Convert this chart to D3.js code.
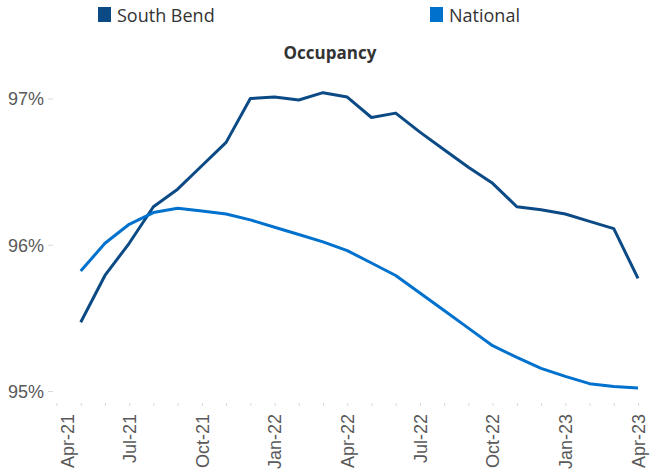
<!DOCTYPE html>
<html>
<head>
<meta charset="utf-8">
<script src="https://cdn.jsdelivr.net/npm/d3@7"></script>
<style>
  body { margin: 0; background: #fff; }
  svg { font-family: "Open Sans", sans-serif; }
  .axis path { display: none; }
  .axis line { stroke: #d9d9d9; }
  .axis text { fill: #595959; }
</style>
</head>
<body>
<svg id="chart" width="662" height="473"></svg>
<script>
// months on the axis, Apr-21 .. Apr-23
const months = ['Apr-21','May-21','Jun-21','Jul-21','Aug-21','Sep-21','Oct-21','Nov-21','Dec-21',
                'Jan-22','Feb-22','Mar-22','Apr-22','May-22','Jun-22','Jul-22','Aug-22','Sep-22',
                'Oct-22','Nov-22','Dec-22','Jan-23','Feb-23','Mar-23','Apr-23'];
// series start in May-21
const seriesMonths = months.slice(1);
const southBend = [95.47, 95.79, 96.01, 96.26, 96.38, 96.54, 96.70, 97.00, 97.01, 96.99, 97.04, 97.01,
                   96.87, 96.90, 96.77, 96.65, 96.53, 96.42, 96.26, 96.24, 96.21, 96.16, 96.11, 95.77];
const national  = [95.82, 96.01, 96.14, 96.22, 96.25, 96.23, 96.21, 96.17, 96.12, 96.07, 96.02, 95.96,
                   95.875, 95.79, 95.67, 95.55, 95.43, 95.31, 95.23, 95.155, 95.10, 95.05, 95.03, 95.02];
const yTicks = [95, 96, 97];
const labelMonths = ['Apr-21','Jul-21','Oct-21','Jan-22','Apr-22','Jul-22','Oct-22','Jan-23','Apr-23'];

const series = [
    {name: 'South Bend', values: southBend, color: '#0b4a85'},
    {name: 'National', values: national, color: '#0072ce'}
];

const svg = d3.select('#chart');

const xScale = d3.scalePoint()
    .domain(months)
    .range([56.5, 638]);

const yScale = d3.scaleLinear()
    .domain([95, 97])
    .range([391, 98.5]);

// y axis
svg.append('g')
    .classed('axis axis--y', true)
    .attr('transform', 'translate(53, 0)')
    .call(d3.axisLeft(yScale).tickValues(yTicks).tickSize(5).tickPadding(4).tickFormat(d => d + '%'))
    .selectAll('text')
        .attr('font-size', 18)
        .attr('dy', '0.35em');

// x axis - tick every month, label every quarter
const xAxis = svg.append('g')
    .classed('axis axis--x', true)
    .attr('transform', 'translate(0, 403)')
    .call(d3.axisBottom(xScale).tickSize(3).tickFormat(d => labelMonths.includes(d) ? d : ''));

xAxis.selectAll('text')
    .attr('font-size', 18)
    .attr('transform', 'rotate(-90)')
    .attr('text-anchor', 'end')
    .attr('x', -11)
    .attr('y', 0)
    .attr('dy', '0.35em');

// first label sits a bit inside in the original
xAxis.select('.tick text')
    .attr('dy', '0.95em');

// lines
const line = d3.line()
    .x((d, i) => xScale(seriesMonths[i]))
    .y(d => yScale(d));

svg.selectAll('.series')
    .data(series)
    .enter()
    .append('path')
        .classed('series', true)
        .attr('d', d => line(d.values))
        .attr('fill', 'none')
        .attr('stroke', d => d.color)
        .attr('stroke-width', 3)
        .attr('stroke-linejoin', 'round');

// title
svg.append('text')
    .attr('x', 330)
    .attr('y', 59)
    .attr('text-anchor', 'middle')
    .attr('font-size', 17)
    .attr('font-weight', 'bold')
    .attr('fill', '#333')
    .text('Occupancy');

// legend
const legendX = [98, 430];
const legend = svg.selectAll('.legend')
    .data(series)
    .enter()
    .append('g')
        .classed('legend', true)
        .attr('transform', (d, i) => `translate(${legendX[i]}, 7)`);

legend.append('rect')
    .attr('width', 13)
    .attr('height', 15)
    .attr('fill', d => d.color);

legend.append('text')
    .attr('x', 19)
    .attr('y', 15)
    .attr('font-size', 18)
    .attr('fill', '#333')
    .text(d => d.name);
</script>
</body>
</html>
